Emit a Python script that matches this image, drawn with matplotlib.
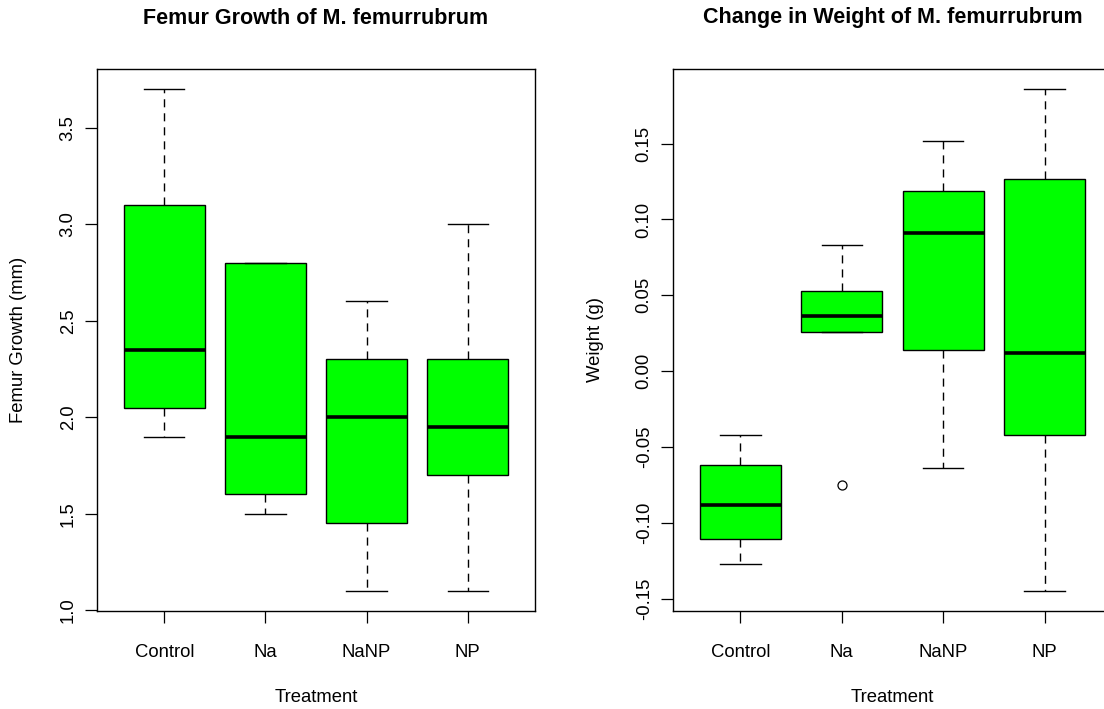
import matplotlib
matplotlib.use('Agg')
import matplotlib.pyplot as plt

plt.rcParams['font.family'] = ['Liberation Sans', 'DejaVu Sans']

# valori (quartili e baffi per gruppo)
treatments = ['Control', 'Na', 'NaNP', 'NP']

femur_low = [1.9, 1.5, 1.1, 1.1]
femur_q1 = [2.05, 1.6, 1.45, 1.7]
femur_med = [2.35, 1.9, 2.0, 1.95]
femur_q3 = [3.1, 2.8, 2.3, 2.3]
femur_high = [3.7, 2.8, 2.6, 3.0]
femur_out = [[], [], [], []]

weight_low = [-0.127, 0.026, -0.064, -0.145]
weight_q1 = [-0.111, 0.026, 0.014, -0.042]
weight_med = [-0.088, 0.036, 0.091, 0.012]
weight_q3 = [-0.062, 0.053, 0.119, 0.127]
weight_high = [-0.042, 0.083, 0.152, 0.186]
weight_out = [[], [-0.075], [], []]

femur_ticks = [1.0, 1.5, 2.0, 2.5, 3.0, 3.5]
weight_ticks = [-0.15, -0.10, -0.05, 0.00, 0.05, 0.10, 0.15]


def make_stats(low, q1, med, q3, high, out):
    stats = []
    for i in range(len(treatments)):
        stats.append({'label': treatments[i], 'whislo': low[i], 'q1': q1[i],
                      'med': med[i], 'q3': q3[i], 'whishi': high[i],
                      'fliers': out[i]})
    return stats


def disegna(ax, stats, ticks, fmt, title, ylabel, ylabel_x):
    ax.bxp(stats, positions=[1, 2, 3, 4], widths=0.8, capwidths=0.4,
           patch_artist=True, showfliers=True,
           boxprops=dict(facecolor='#00FF00', edgecolor='black', linewidth=1.0),
           medianprops=dict(color='black', linewidth=2.6, solid_capstyle='butt'),
           whiskerprops=dict(color='black', linewidth=1.0,
                             linestyle=(0, (5.8, 4.3))),
           capprops=dict(color='black', linewidth=1.0),
           flierprops=dict(marker='o', markerfacecolor='none',
                           markeredgecolor='black', markersize=6.5,
                           markeredgewidth=0.9))
    lo = min(s['whislo'] for s in stats)
    lo = min([lo] + [f for s in stats for f in s['fliers']])
    hi = max(s['whishi'] for s in stats)
    pad = (hi - lo) * 0.04
    ax.set_ylim(lo - pad, hi + pad)
    ax.set_xlim(0.335, 4.665)
    ax.set_yticks(ticks)
    ax.set_yticklabels([fmt % t for t in ticks])
    ax.set_xticks([1, 2, 3, 4])
    ax.set_xticklabels(treatments)
    ax.tick_params(axis='y', labelrotation=90, length=8.6, width=0.9,
                   labelsize=13.3, pad=6)
    for lab in ax.get_yticklabels():
        lab.set_va('center')
    ax.tick_params(axis='x', length=8.6, width=0.9, labelsize=13.3, pad=15)
    for sp in ax.spines.values():
        sp.set_linewidth(1.0)
    bb = ax.get_position()
    cx = (bb.x0 + bb.x1) / 2
    fig.text(cx, 1 - 18 / 709, title, ha='center', va='center',
             fontsize=15.5, fontweight='bold')
    fig.text(cx, 1 - 697 / 709, 'Treatment', ha='center', va='center',
             fontsize=13.3)
    fig.text(ylabel_x / 1104, 1 - 340 / 709, ylabel, ha='center', va='center',
             rotation=90, fontsize=13.3)


fig = plt.figure(figsize=(11.04, 7.09), dpi=100)
ax1 = fig.add_axes([97 / 1104, 98 / 709, 438 / 1104, 542 / 709])
ax2 = fig.add_axes([673 / 1104, 98 / 709, 439 / 1104, 542 / 709])

disegna(ax1, make_stats(femur_low, femur_q1, femur_med, femur_q3, femur_high,
                        femur_out),
        femur_ticks, '%.1f', 'Femur Growth of M. femurrubrum',
        'Femur Growth (mm)', 19)
disegna(ax2, make_stats(weight_low, weight_q1, weight_med, weight_q3,
                        weight_high, weight_out),
        weight_ticks, '%.2f', 'Change in Weight of M. femurrubrum',
        'Weight (g)', 596)

plt.savefig('out.png', dpi=100)
